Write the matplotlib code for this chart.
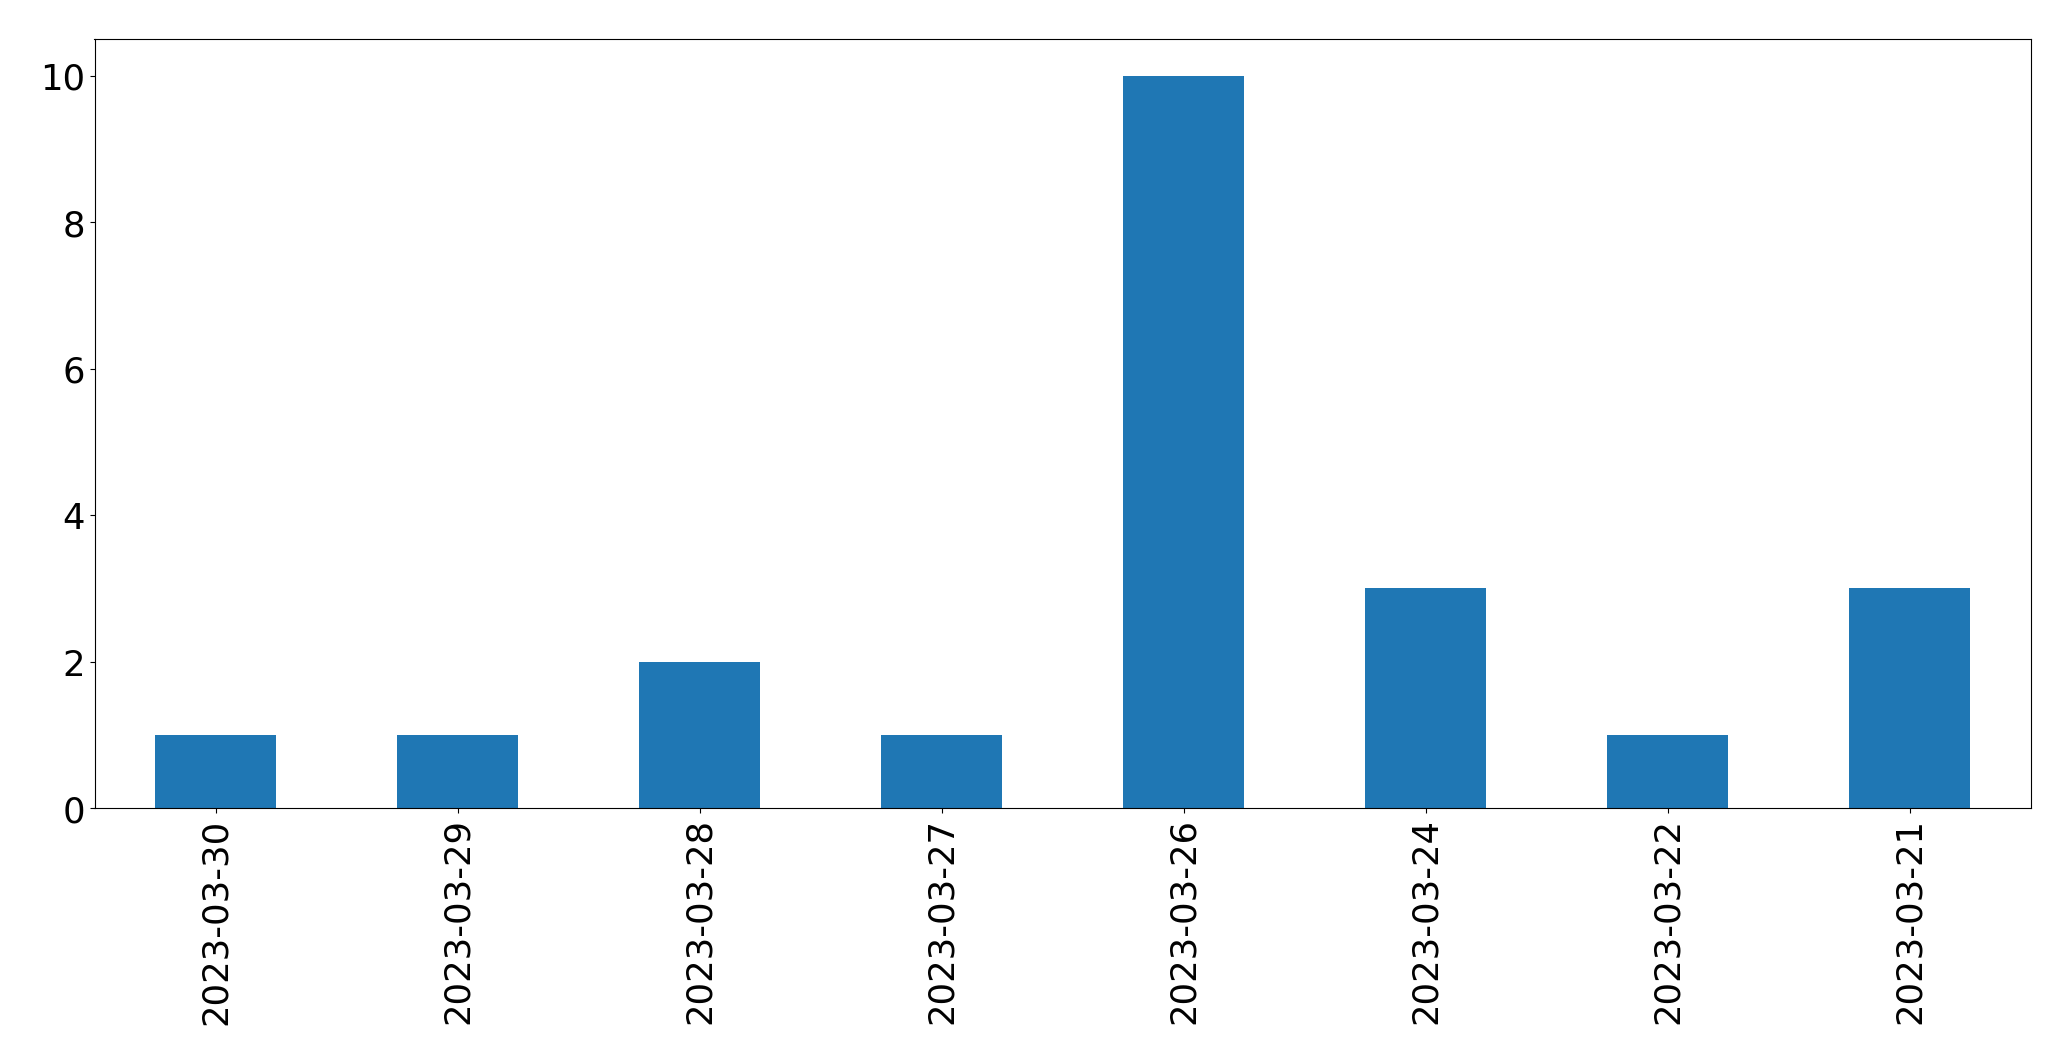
import matplotlib
matplotlib.use("Agg")
import matplotlib.pyplot as plt

# 日付ごとの件数
dates = ["2023-03-30", "2023-03-29", "2023-03-28", "2023-03-27",
         "2023-03-26", "2023-03-24", "2023-03-22", "2023-03-21"]
counts = [1, 1, 2, 1, 10, 3, 1, 3]

fig = plt.figure(figsize=(20.71, 10.605), dpi=100)
ax = fig.add_axes([94.5 / 2071, 1 - 809 / 1061, (2031 - 94.5) / 2071, (809 - 39.5) / 1061])

x = range(len(dates))
ax.bar(x, counts, width=0.5, color="#1f77b4")
ax.set_xticks(list(x))
ax.set_xticklabels(dates, rotation=90, fontsize=25.5)
ax.tick_params(axis="y", labelsize=25.5)
ax.set_xlim(-0.5, len(dates) - 0.5)
ax.set_ylim(0, 10.5)

fig.savefig("out.png", dpi=100)
